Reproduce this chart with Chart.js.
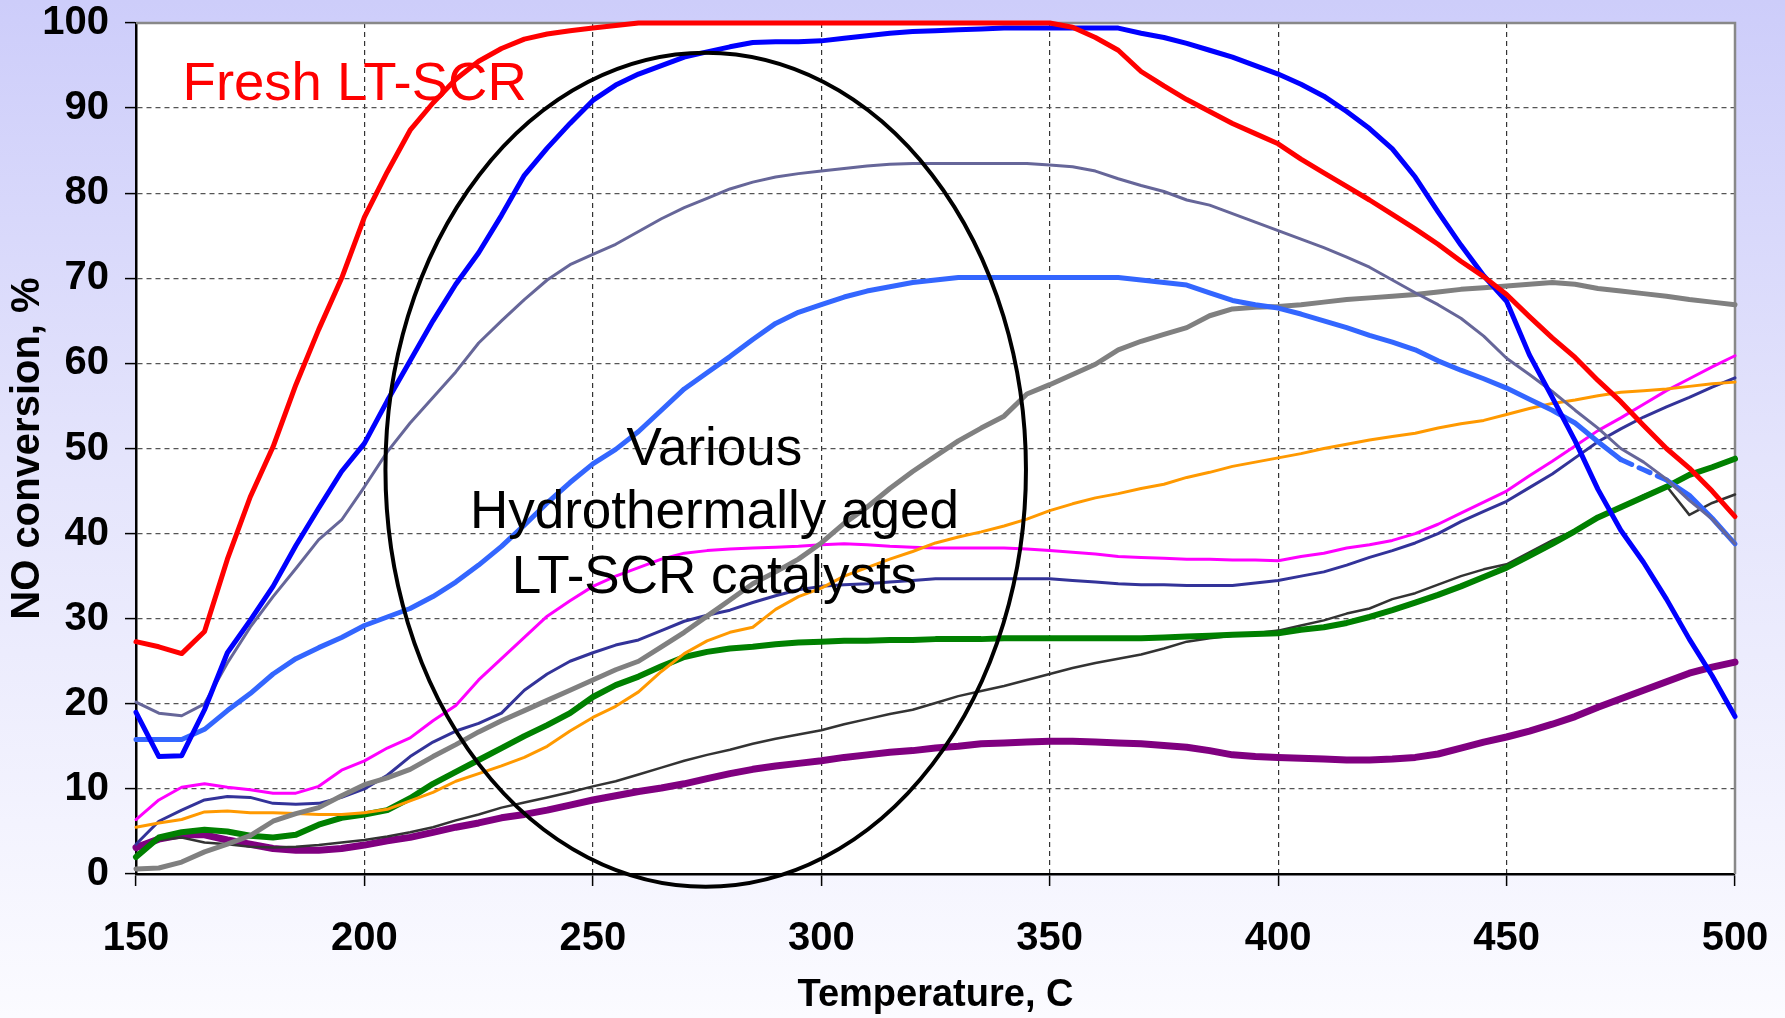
<!DOCTYPE html>
<html>
<head>
<meta charset="utf-8">
<title>NO conversion vs temperature</title>
<script src="https://cdn.jsdelivr.net/npm/chart.js@4.4.1/dist/chart.umd.min.js"></script>
<style>
  html, body { margin: 0; padding: 0; }
  body {
    width: 1785px; height: 1018px; overflow: hidden;
    background: linear-gradient(to bottom, #cdcdfa 0%, #e4e4fc 45%, #fbfbff 100%);
  }
  canvas { display: block; }
</style>
</head>
<body>
<canvas id="conversionChart" width="1785" height="1018"></canvas>
<script>
// Temperature, C (x values shared by every run)
const temps = [
  150, 155, 160, 165, 170, 175, 180, 185, 190, 195,
  200, 205, 210, 215, 220, 225, 230, 235, 240, 245,
  250, 255, 260, 265, 270, 275, 280, 285, 290, 295,
  300, 305, 310, 315, 320, 325, 330, 335, 340, 345,
  350, 355, 360, 365, 370, 375, 380, 385, 390, 395,
  400, 405, 410, 415, 420, 425, 430, 435, 440, 445,
  450, 455, 460, 465, 470, 475, 480, 485, 490, 495,
  500
];

// NO conversion, % - fresh catalyst
const freshRed = [
  27.3, 26.7, 25.9, 28.5, 37.0, 44.3, 50.2, 57.5, 64.0, 70.0,
  77.2, 82.5, 87.4, 90.6, 93.4, 95.5, 97.0, 98.1, 98.7, 99.1,
  99.4, 99.7, 100, 100, 100, 100, 100, 100, 100, 100,
  100, 100, 100, 100, 100, 100, 100, 100, 100, 100,
  100, 99.5, 98.3, 96.8, 94.3, 92.6, 91.0, 89.6, 88.2, 87.0,
  85.8, 84.0, 82.4, 80.8, 79.2, 77.5, 75.8, 74.0, 72.0, 70.2,
  68.1, 65.5, 63.0, 60.7, 58.0, 55.5, 52.7, 50.0, 47.7, 45.0,
  42.0
];

// hydrothermally aged catalysts
const agedBlue = [
  19.0, 13.8, 13.9, 19.3, 26.0, 29.8, 33.8, 38.6, 43.0, 47.3,
  50.6, 55.6, 60.3, 65.0, 69.3, 73.0, 77.4, 82.1, 85.3, 88.2,
  90.9, 92.7, 94.0, 95.0, 96.0, 96.6, 97.2, 97.7, 97.8, 97.8,
  97.9, 98.2, 98.5, 98.8, 99.0, 99.1, 99.2, 99.3, 99.4, 99.4,
  99.4, 99.4, 99.4, 99.4, 98.8, 98.3, 97.6, 96.8, 96.0, 95.0,
  94.0, 92.8, 91.4, 89.6, 87.6, 85.2, 81.9, 77.8, 73.9, 70.3,
  67.3, 61.0, 56.0, 50.9, 45.2, 40.4, 36.6, 32.3, 27.6, 23.3,
  18.5
];

const agedSlate = [
  20.2, 18.9, 18.6, 20.0, 24.8, 29.0, 32.6, 35.9, 39.3, 41.6,
  45.5, 49.6, 53.0, 56.0, 59.0, 62.4, 65.0, 67.5, 69.8, 71.6,
  72.8, 74.0, 75.5, 77.0, 78.3, 79.4, 80.5, 81.3, 81.9, 82.3,
  82.6, 82.9, 83.2, 83.4, 83.5, 83.5, 83.5, 83.5, 83.5, 83.5,
  83.3, 83.1, 82.6, 81.7, 80.9, 80.2, 79.2, 78.6, 77.6, 76.6,
  75.6, 74.6, 73.6, 72.5, 71.3, 69.8, 68.3, 66.9, 65.3, 63.2,
  60.6, 58.7, 56.7, 54.5, 52.4, 50.0, 48.4, 46.4, 43.9, 41.7,
  38.8
];

const agedLightBlue = [
  15.8, 15.8, 15.8, 17.0, 19.2, 21.2, 23.5, 25.3, 26.6, 27.8,
  29.2, 30.2, 31.2, 32.6, 34.3, 36.3, 38.5, 41.0, 43.6, 46.0,
  48.2, 49.9, 52.0, 54.5, 57.0, 58.9, 60.8, 62.8, 64.7, 66.0,
  66.9, 67.8, 68.5, 69.0, 69.5, 69.8, 70.1, 70.1, 70.1, 70.1,
  70.1, 70.1, 70.1, 70.1, 69.8, 69.5, 69.2, 68.3, 67.4, 66.9,
  66.5, 65.8, 65.0, 64.2, 63.3, 62.5, 61.6, 60.3, 59.2, 58.2,
  57.1, 55.8, 54.5, 53.0, 50.8, 48.7, 47.5, 46.3, 44.5, 41.8,
  38.8
];

const agedGray = [
  0.6, 0.7, 1.4, 2.6, 3.5, 4.5, 6.2, 7.1, 7.8, 9.2,
  10.5, 11.3, 12.3, 13.8, 15.2, 16.7, 18.0, 19.2, 20.4, 21.6,
  22.8, 24.0, 25.0, 26.7, 28.4, 30.3, 32.2, 34.1, 35.5, 37.0,
  38.9, 41.2, 43.1, 45.3, 47.3, 49.1, 50.9, 52.4, 53.8, 56.4,
  57.5, 58.7, 59.9, 61.6, 62.6, 63.4, 64.2, 65.6, 66.4, 66.6,
  66.7, 66.9, 67.2, 67.5, 67.7, 67.9, 68.1, 68.4, 68.7, 68.9,
  69.1, 69.3, 69.5, 69.3, 68.8, 68.5, 68.2, 67.9, 67.5, 67.2,
  66.9
];

const agedOrange = [
  5.5, 6.0, 6.4, 7.3, 7.4, 7.2, 7.2, 7.1, 7.0, 7.0,
  7.2, 7.6, 8.6, 9.6, 10.9, 11.8, 12.7, 13.7, 15.0, 16.8,
  18.4, 19.7, 21.4, 23.8, 25.9, 27.4, 28.4, 29.0, 31.1, 32.6,
  33.6, 35.0, 36.0, 37.0, 37.9, 38.9, 39.6, 40.2, 40.9, 41.7,
  42.7, 43.5, 44.2, 44.7, 45.3, 45.8, 46.6, 47.2, 47.9, 48.4,
  48.9, 49.4, 50.0, 50.5, 51.0, 51.4, 51.8, 52.4, 52.9, 53.3,
  54.0, 54.7, 55.3, 55.7, 56.2, 56.6, 56.8, 57.0, 57.3, 57.6,
  57.8
];

const agedMagenta = [
  6.4, 8.7, 10.2, 10.6, 10.2, 9.9, 9.5, 9.5, 10.3, 12.2,
  13.3, 14.8, 16.0, 18.0, 19.8, 22.8, 25.3, 27.8, 30.3, 32.1,
  33.8, 35.0, 36.0, 37.0, 37.7, 38.0, 38.2, 38.3, 38.4, 38.5,
  38.7, 38.8, 38.7, 38.5, 38.4, 38.3, 38.3, 38.3, 38.3, 38.2,
  38.0, 37.8, 37.6, 37.3, 37.2, 37.1, 37.0, 37.0, 36.9, 36.9,
  36.8, 37.3, 37.7, 38.3, 38.7, 39.2, 40.0, 41.1, 42.4, 43.7,
  45.0, 46.8, 48.5, 50.3, 52.1, 53.6, 55.2, 56.8, 58.2, 59.6,
  60.9
];

const agedNavy = [
  3.5, 6.2, 7.5, 8.7, 9.1, 9.0, 8.3, 8.2, 8.3, 9.0,
  10.0, 11.6, 13.8, 15.5, 16.8, 17.7, 18.9, 21.6, 23.5, 25.0,
  26.0, 26.9, 27.5, 28.6, 29.7, 30.4, 31.0, 31.9, 32.7, 33.4,
  33.8, 34.0, 34.1, 34.3, 34.5, 34.7, 34.7, 34.7, 34.7, 34.7,
  34.7, 34.5, 34.3, 34.1, 34.0, 34.0, 33.9, 33.9, 33.9, 34.2,
  34.5, 35.0, 35.5, 36.3, 37.2, 38.0, 38.9, 40.0, 41.4, 42.6,
  43.8, 45.4, 47.0, 48.9, 50.8, 52.3, 53.7, 54.9, 56.0, 57.2,
  58.3
];

const agedGreen = [
  2.0, 4.3, 4.9, 5.2, 5.0, 4.5, 4.3, 4.6, 5.8, 6.6,
  7.0, 7.5, 8.9, 10.6, 12.0, 13.4, 14.8, 16.2, 17.5, 18.9,
  20.8, 22.2, 23.2, 24.4, 25.5, 26.1, 26.5, 26.7, 27.0, 27.2,
  27.3, 27.4, 27.4, 27.5, 27.5, 27.6, 27.6, 27.6, 27.7, 27.7,
  27.7, 27.7, 27.7, 27.7, 27.7, 27.8, 27.9, 28.0, 28.1, 28.2,
  28.3, 28.7, 29.0, 29.5, 30.2, 31.0, 31.9, 32.8, 33.8, 34.9,
  36.0, 37.4, 38.8, 40.3, 41.9, 43.1, 44.3, 45.5, 46.9, 47.8,
  48.8
];

const agedDarkGray = [
  2.3, 4.0, 4.3, 3.7, 3.5, 3.2, 3.1, 3.2, 3.4, 3.7,
  4.0, 4.4, 4.9, 5.5, 6.3, 7.0, 7.8, 8.4, 9.0, 9.6,
  10.3, 10.9, 11.7, 12.5, 13.3, 14.0, 14.6, 15.3, 15.9, 16.4,
  16.9, 17.6, 18.2, 18.8, 19.3, 20.1, 20.9, 21.5, 22.1, 22.8,
  23.5, 24.2, 24.8, 25.3, 25.8, 26.5, 27.3, 27.7, 28.0, 28.3,
  28.6, 29.2, 29.8, 30.6, 31.2, 32.3, 33.0, 34.0, 35.0, 35.8,
  36.4, 37.8, 39.2, 40.4, 41.9, 43.1, 44.5, 45.6, 42.2, 43.6,
  44.6
];

const agedPurple = [
  3.1, 4.1, 4.6, 4.6, 4.0, 3.5, 3.0, 2.8, 2.8, 3.0,
  3.4, 3.9, 4.3, 4.9, 5.5, 6.0, 6.6, 7.0, 7.5, 8.1,
  8.7, 9.2, 9.7, 10.1, 10.6, 11.2, 11.8, 12.3, 12.7, 13.0,
  13.3, 13.7, 14.0, 14.3, 14.5, 14.8, 15.0, 15.3, 15.4, 15.5,
  15.6, 15.6, 15.5, 15.4, 15.3, 15.1, 14.9, 14.5, 14.0, 13.8,
  13.7, 13.6, 13.5, 13.4, 13.4, 13.5, 13.7, 14.1, 14.8, 15.5,
  16.1, 16.8, 17.6, 18.5, 19.6, 20.6, 21.6, 22.6, 23.6, 24.3,
  24.9
];

const xTicks = [150, 200, 250, 300, 350, 400, 450, 500];
const yTicks = [0, 10, 20, 30, 40, 50, 60, 70, 80, 90, 100];

// first dataset is painted last (on top)
const runs = [
  { values: freshRed, color: '#ff0000', width: 5 },
  { values: agedBlue, color: '#0000ff', width: 5 },
  { values: agedSlate, color: '#666699', width: 3 },
  { values: agedLightBlue, color: '#3366ff', width: 5, dashFrom: 475, dashTo: 485 },
  { values: agedGray, color: '#808080', width: 5 },
  { values: agedOrange, color: '#ff9900', width: 3 },
  { values: agedMagenta, color: '#ff00ff', width: 3 },
  { values: agedNavy, color: '#333399', width: 3 },
  { values: agedGreen, color: '#008000', width: 6 },
  { values: agedDarkGray, color: '#333333', width: 2.5 },
  { values: agedPurple, color: '#800080', width: 7 }
];

const FONT = "'Liberation Sans', Arial, Helvetica, sans-serif";
Chart.defaults.font.family = FONT;
Chart.defaults.color = '#000';

// white plot area + gray top/right frame
const plotFrame = {
  id: 'plotFrame',
  beforeDraw(chart) {
    const { ctx, chartArea: a } = chart;
    ctx.save();
    ctx.fillStyle = '#ffffff';
    ctx.fillRect(a.left, a.top, a.right - a.left, a.bottom - a.top);
    ctx.restore();
  },
  beforeDatasetsDraw(chart) {
    const { ctx, chartArea: a } = chart;
    ctx.save();
    ctx.strokeStyle = '#888888';
    ctx.lineWidth = 2.5;
    ctx.beginPath();
    ctx.moveTo(a.left, a.top);
    ctx.lineTo(a.right, a.top);
    ctx.lineTo(a.right, a.bottom);
    ctx.stroke();
    ctx.restore();
  }
};

// ellipse round the aged runs and the two captions
const callouts = {
  id: 'callouts',
  afterDatasetsDraw(chart) {
    const { ctx, scales: { x, y } } = chart;
    ctx.save();
    const cx = x.getPixelForValue(274.7);
    const cy = y.getPixelForValue(47.5);
    const rx = x.getPixelForValue(274.7 + 70.1) - cx;
    const ry = cy - y.getPixelForValue(47.5 + 49.0);
    ctx.strokeStyle = '#000';
    ctx.lineWidth = 4;
    ctx.beginPath();
    ctx.ellipse(cx, cy, rx, ry, 0, 0, Math.PI * 2);
    ctx.stroke();

    ctx.font = '54.5px ' + FONT;
    ctx.fillStyle = '#ff0000';
    ctx.textAlign = 'left';
    ctx.textBaseline = 'alphabetic';
    ctx.fillText('Fresh LT-SCR', x.getPixelForValue(160.2), y.getPixelForValue(90.9));

    ctx.font = '53px ' + FONT;
    ctx.fillStyle = '#000';
    ctx.textAlign = 'center';
    ctx.textBaseline = 'middle';
    const tx = x.getPixelForValue(276.6);
    ctx.fillText('Various', tx, y.getPixelForValue(49.8));
    ctx.fillText('Hydrothermally aged', tx, y.getPixelForValue(42.4));
    ctx.fillText('LT-SCR catalysts', tx, y.getPixelForValue(34.7));
    ctx.restore();
  }
};

new Chart(document.getElementById('conversionChart').getContext('2d'), {
  type: 'line',
  data: {
    datasets: runs.map(r => ({
      data: temps.map((t, i) => ({ x: t, y: r.values[i] })),
      borderColor: r.color,
      backgroundColor: r.color,
      borderWidth: r.width,
      pointRadius: 0,
      tension: 0,
      fill: false,
      clip: false,
      borderJoinStyle: 'round',
      borderCapStyle: 'round',
      segment: r.dashFrom ? {
        borderDash: c => (c.p0.parsed.x >= r.dashFrom && c.p1.parsed.x <= r.dashTo) ? [12, 8] : undefined
      } : undefined
    }))
  },
  options: {
    responsive: false,
    animation: false,
    layout: { padding: { top: 23, right: 50, bottom: 0, left: 0 } },
    plugins: { legend: { display: false }, tooltip: { enabled: false } },
    scales: {
      x: {
        type: 'linear',
        min: 150,
        max: 500,
        afterBuildTicks: s => { s.ticks = xTicks.map(v => ({ value: v })); },
        afterFit: s => {
          s.height = 144;
          s.paddingLeft = 0;
          s.paddingRight = 0;
        },
        grid: {
          color: c => (c.tick && c.tick.value === 500) ? 'rgba(0,0,0,0)' : '#333333',
          lineWidth: 1.2,
          tickLength: 12,
          tickColor: '#000',
          tickWidth: 1.5
        },
        border: { display: true, color: '#000', width: 2.5, dash: [5, 4] },
        ticks: {
          font: { size: 40, weight: 'bold', lineHeight: 1 },
          color: '#000',
          padding: 33,
          maxRotation: 0
        },
        title: {
          display: true,
          text: 'Temperature, C',
          font: { size: 38, weight: 'bold', lineHeight: 1 },
          color: '#000',
          padding: { top: 0, bottom: 3 }
        }
      },
      y: {
        min: 0,
        max: 100,
        afterBuildTicks: s => { s.ticks = yTicks.map(v => ({ value: v })); },
        afterFit: s => {
          s.width = 136;
          s.paddingTop = 0;
          s.paddingBottom = 0;
        },
        grid: {
          color: c => (c.tick && c.tick.value === 100) ? 'rgba(0,0,0,0)' : '#555555',
          lineWidth: 1.2,
          tickLength: 11,
          tickColor: '#000',
          tickWidth: 1.5
        },
        border: { display: true, color: '#000', width: 2.5, dash: [5, 4] },
        ticks: {
          font: { size: 40, weight: 'bold', lineHeight: 1 },
          color: '#000',
          padding: 16
        },
        title: {
          display: true,
          text: 'NO conversion, %',
          font: { size: 40, weight: 'bold', lineHeight: 1 },
          color: '#000',
          padding: { top: 8, bottom: 0 }
        }
      }
    }
  },
  plugins: [plotFrame, callouts]
});
</script>
</body>
</html>
